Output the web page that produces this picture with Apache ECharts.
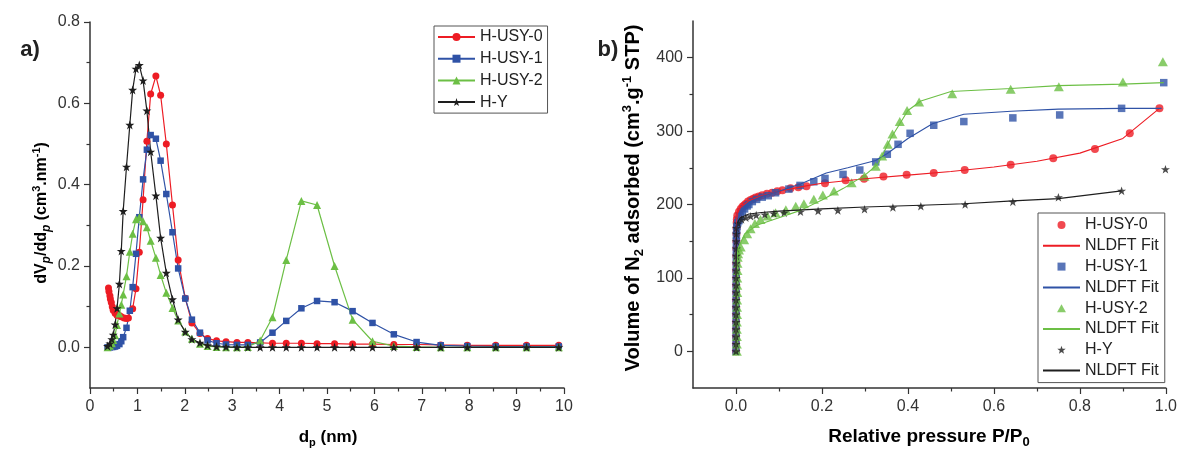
<!DOCTYPE html>
<html>
<head>
<meta charset="utf-8">
<script src="https://cdn.jsdelivr.net/npm/echarts@6/dist/echarts.min.js"></script>
<style>html,body{margin:0;padding:0;background:#fff}#c{width:1180px;height:450px}</style>
</head>
<body>
<div id="c"></div>
<script>
// ---------- Panel a) pore size distribution ----------
const psdGrid = [0.37,0.42,0.46,0.49,0.53,0.57,0.62,0.66,0.70,0.77,0.84,0.90,0.97,1.04,1.12,1.20,1.28,1.39,1.49,1.61,1.74,1.86,2.01,2.15,2.32,2.48,2.67,2.87,3.10,3.33,3.59,3.85,4.14,4.46,4.79,5.16,5.54,5.96,6.41,6.89,7.40,7.96,8.56,9.21,9.89];
const usy0X = [0.39,0.40,0.42,0.43,0.45,0.47,0.49,0.53,0.57,0.62,0.66,0.72,0.77,0.81,0.90,0.97,1.04,1.12,1.20,1.28,1.39,1.49,1.61,1.74,1.86,2.01,2.15,2.32,2.48,2.67,2.87,3.10,3.33,3.59,3.85,4.14,4.46,4.79,5.16,5.54,5.96,6.41,6.89,7.40,7.96,8.56,9.21,9.89];
const usy0Y = [0.146,0.137,0.127,0.119,0.110,0.100,0.091,0.084,0.079,0.078,0.075,0.072,0.071,0.072,0.095,0.144,0.234,0.363,0.507,0.623,0.667,0.620,0.500,0.350,0.215,0.121,0.060,0.034,0.022,0.016,0.014,0.012,0.012,0.011,0.010,0.010,0.010,0.009,0.009,0.008,0.008,0.007,0.007,0.006,0.005,0.005,0.005,0.005];
const usy1Y = [0.000,0.000,0.001,0.001,0.002,0.004,0.008,0.015,0.025,0.048,0.090,0.148,0.230,0.320,0.413,0.486,0.522,0.513,0.459,0.377,0.283,0.194,0.120,0.068,0.036,0.017,0.010,0.007,0.006,0.006,0.012,0.036,0.065,0.096,0.114,0.111,0.089,0.060,0.032,0.013,0.005,0.003,0.002,0.002,0.002];
const usy2Y = [0.000,0.004,0.010,0.018,0.030,0.055,0.083,0.105,0.130,0.175,0.235,0.279,0.315,0.320,0.310,0.295,0.262,0.220,0.178,0.134,0.097,0.066,0.039,0.021,0.009,0.003,0.001,0.000,0.000,0.001,0.017,0.074,0.215,0.360,0.350,0.200,0.068,0.015,0.003,0.001,0.000,0.000,0.000,0.000,0.000];
const hyY   = [0.003,0.009,0.020,0.031,0.056,0.096,0.156,0.237,0.335,0.444,0.547,0.633,0.685,0.694,0.656,0.582,0.481,0.373,0.269,0.183,0.118,0.068,0.038,0.020,0.011,0.005,0.002,0.001,0.000,0.000,0.000,0.000,0.000,0.000,0.000,0.000,0.000,0.000,0.000,0.000,0.000,0.000,0.000,0.000,0.000];
const psdXTicks = [0,1,2,3,4,5,6,7,8,9,10];
const psdYTicks = [0,0.2,0.4,0.6,0.8];

// ---------- Panel b) N2 isotherms ----------
const iso0P = [0.0001,0.0001,0.0002,0.0002,0.0002,0.0003,0.0003,0.0003,0.0004,0.0004,0.0005,0.0005,0.0006,0.0007,0.0008,0.0009,0.001,0.0012,0.0015,0.002,0.003,0.007,0.011,0.015,0.019,0.023,0.028,0.034,0.040,0.046,0.053,0.061,0.072,0.084,0.096,0.108,0.127,0.145,0.164,0.207,0.255,0.298,0.343,0.397,0.460,0.532,0.639,0.738,0.835,0.916,0.985];
const iso0V = [0,10,20,30,40,50,60,70,80,90,100,110,120,130,140,150,160,168,175,180,185,190,194,197,199,201,204,206,208,209.6,211,212.7,214.5,216,218,219.5,222,223.5,225,229,233,235,238,240.5,243,247,254,263,275.5,297,331];
const fit0P = [0,0.0005,0.001,0.003,0.01,0.03,0.06,0.1,0.16,0.2,0.3,0.4,0.5,0.6,0.7,0.8,0.9,0.985];
const fit0V = [0,100,170,188,196,205,212,218,225,229,235,240,245,251,259,270,290,331];

const iso1P = [0.0001,0.0001,0.0002,0.0002,0.0002,0.0003,0.0003,0.0003,0.0004,0.0004,0.0005,0.0005,0.0006,0.0007,0.0008,0.0009,0.001,0.0015,0.002,0.004,0.007,0.010,0.015,0.020,0.026,0.030,0.038,0.048,0.061,0.075,0.092,0.123,0.149,0.181,0.207,0.249,0.288,0.325,0.352,0.377,0.405,0.460,0.530,0.644,0.753,0.897,0.995];
const iso1V = [0,10,20,30,40,50,60,70,80,90,100,110,120,130,140,150,158,165,170,175,178,184,190,194,198,200,204,207,210,212,216,221,226,231,235.5,241,247,258,268.5,282,297,308,313,318,322,331,366];
const fit1P = [0,0.0005,0.001,0.003,0.01,0.03,0.06,0.1,0.15,0.21,0.26,0.325,0.352,0.40,0.457,0.53,0.64,0.75,0.9,0.99];
const fit1V = [0,100,150,175,190,203,211,218,228,243,250,260,269.5,290,310,323,327,330,331,331];

const iso2P = [0.002,0.002,0.002,0.002,0.002,0.0025,0.0025,0.0025,0.003,0.003,0.003,0.0035,0.0035,0.004,0.005,0.007,0.011,0.019,0.026,0.034,0.044,0.057,0.073,0.092,0.116,0.139,0.158,0.181,0.202,0.228,0.269,0.299,0.325,0.340,0.353,0.364,0.381,0.398,0.426,0.503,0.639,0.751,0.900,0.993];
const iso2V = [0,10,20,30,40,50,60,70,80,90,100,110,120,128,133,138,142,152,160,167,174,179.6,184.5,188.7,193,197.5,201,207,213,218.5,229.5,238.6,252,266,282,296,313,328,339.5,351,357,360.5,367,394.5];
const fit2P = [0,0.001,0.003,0.005,0.02,0.05,0.1,0.15,0.2,0.25,0.3,0.33,0.36,0.40,0.43,0.5,0.64,0.75,0.9,0.995];
const fit2V = [0,100,130,140,160,172,182,192,206,222,240,255,290,328,341,354,358,362,364,366];

const isoYP = [0.0001,0.0001,0.0001,0.0002,0.0002,0.0002,0.0003,0.0003,0.0003,0.0004,0.0004,0.0005,0.0005,0.0006,0.0007,0.0008,0.0009,0.001,0.005,0.013,0.023,0.034,0.047,0.067,0.088,0.112,0.150,0.191,0.237,0.299,0.365,0.430,0.533,0.644,0.750,0.897,0.999];
const isoYV = [0,10,20,30,40,50,60,70,80,90,100,110,120,130,140,150,160,168,174,179.5,182,184,185.5,186.4,187.7,188.6,190,191.3,192,193.6,196,197.7,200,203.6,210,218.6,248];
const fitYP = [0,0.0005,0.001,0.003,0.01,0.03,0.06,0.1,0.2,0.3,0.43,0.53,0.644,0.75,0.897];
const fitYV = [0,120,160,175,182,187,189,191,194,196.5,199,201,205,208,218.6];

const isoXTicks = [0,0.2,0.4,0.6,0.8,1.0];
const isoYTicks = [0,100,200,300,400];

const names = ['H-USY-0','H-USY-1','H-USY-2','H-Y'];
const colors = ['#ED1C24','#2F52A6','#6CBF45','#1E1E1E'];

// ---------- build ----------
const FONT = '"Liberation Sans", Arial, Helvetica, sans-serif';
const STAR = 'path://M50,0L61.8,34.5L97.6,34.5L68.8,55.9L79.4,90.5L50,69.1L20.6,90.5L31.2,55.9L2.4,34.5L38.2,34.5Z';
const SQUARE = 'path://M0,0L10,0L10,10L0,10Z';
const TRI = 'path://M5,0L10,9L0,9Z';
const zip = (xs, ys) => xs.map((x, i) => [x, ys[i]]);

function axisBase(extra) {
  return Object.assign({
    type: 'value',
    axisLine: { show: true, onZero: false, lineStyle: { color: '#333', width: 1.5 } },
    axisTick: { show: true, inside: false, length: 6, lineStyle: { color: '#333', width: 1.2 } },
    minorTick: { show: true, splitNumber: 2, length: 3.5, lineStyle: { color: '#333', width: 1.2 } },
    splitLine: { show: false },
    axisLabel: { fontSize: 16, color: '#333', fontFamily: FONT }
  }, extra);
}

const psdSymbols = ['circle', 'rect', 'triangle', STAR];
const psdSizes = [7, 6.5, 8, 9];
const psdData = [zip(usy0X, usy0Y), zip(psdGrid, usy1Y), zip(psdGrid, usy2Y), zip(psdGrid, hyY)];

const series = [];
names.forEach((n, i) => {
  series.push({
    name: n, type: 'line', xAxisIndex: 0, yAxisIndex: 0,
    data: psdData[i], symbol: psdSymbols[i], symbolSize: psdSizes[i],
    showSymbol: true, color: colors[i],
    lineStyle: { width: 1.2, color: colors[i] },
    itemStyle: { color: colors[i] }
  });
});

const isoData = [[iso0P, iso0V, fit0P, fit0V],[iso1P, iso1V, fit1P, fit1V],[iso2P, iso2V, fit2P, fit2V],[isoYP, isoYV, fitYP, fitYV]];
const isoSymbols = ['circle', SQUARE, TRI, STAR];
const isoSizes = [8, 7.5, 10, 9];
const rightLegend = [];
names.forEach((n, i) => {
  const d = isoData[i];
  series.push({
    name: n + '#b', type: 'scatter', xAxisIndex: 1, yAxisIndex: 1,
    data: zip(d[0], d[1]), symbol: isoSymbols[i], symbolSize: isoSizes[i], symbolKeepAspect: true,
    itemStyle: { color: colors[i] }
  });
  series.push({
    name: 'NLDFT Fit#' + i, type: 'line', xAxisIndex: 1, yAxisIndex: 1,
    data: zip(d[2], d[3]), symbol: 'none', showSymbol: false,
    color: colors[i], lineStyle: { width: 1.1, color: colors[i] }
  });
  rightLegend.push({ name: n + '#b' });
  rightLegend.push({ name: 'NLDFT Fit#' + i, itemStyle: { opacity: 0 } });
});

function richSet(fs) {
  const s = Math.round(fs * 0.66);
  return {
    b: { fontSize: fs, fontWeight: 'bold', fontFamily: FONT, color: '#222', lineHeight: fs + 5 },
    sub: { fontSize: s, fontWeight: 'bold', fontFamily: FONT, color: '#222', verticalAlign: 'bottom', lineHeight: s + 3 },
    subi: { fontSize: s + 1, fontWeight: 'bold', fontStyle: 'italic', fontFamily: FONT, color: '#222', verticalAlign: 'bottom', lineHeight: s + 3 },
    sup: { fontSize: s, fontWeight: 'bold', fontFamily: FONT, color: '#222', verticalAlign: 'top', lineHeight: s + 1 }
  };
}

const option = {
  animation: false,
  backgroundColor: '#fff',
  grid: [
    { left: 90, top: 22, width: 474, height: 366 },
    { left: 693, top: 21, width: 473, height: 367 }
  ],
  xAxis: [
    axisBase({ gridIndex: 0, min: 0, max: 10, interval: 1,
      axisLabel: { fontSize: 16, color: '#333', fontFamily: FONT, margin: 11, customValues: psdXTicks } }),
    axisBase({ gridIndex: 1, min: -0.1, max: 1.0,
      axisTick: { show: true, inside: false, length: 6, customValues: isoXTicks, lineStyle: { color: '#333', width: 1.2 } },
      axisLabel: { fontSize: 16, color: '#333', fontFamily: FONT, margin: 11, customValues: isoXTicks, formatter: v => v.toFixed(1) } })
  ],
  yAxis: [
    axisBase({ gridIndex: 0, min: -0.1, max: 0.8,
      axisTick: { show: true, inside: false, length: 6, customValues: psdYTicks, lineStyle: { color: '#333', width: 1.2 } },
      axisLabel: { fontSize: 16, color: '#333', fontFamily: FONT, margin: 10, customValues: psdYTicks, formatter: v => v.toFixed(1) } }),
    axisBase({ gridIndex: 1, min: -50, max: 450,
      axisTick: { show: true, inside: false, length: 6, customValues: isoYTicks, lineStyle: { color: '#333', width: 1.2 } },
      axisLabel: { fontSize: 16, color: '#333', fontFamily: FONT, margin: 10, customValues: isoYTicks } })
  ],
  legend: [
    { orient: 'vertical', left: 434, top: 26, padding: [3, 5, 3, 3], itemGap: 5.7,
      itemWidth: 37, itemHeight: 10, borderColor: '#555', borderWidth: 1,
      data: names, selectedMode: false,
      textStyle: { fontSize: 16, lineHeight: 16, color: '#222', fontFamily: FONT } },
    { orient: 'vertical', left: 1038, top: 213, padding: [4, 6, 4, 4], itemGap: 4.8,
      itemWidth: 37, itemHeight: 8, borderColor: '#555', borderWidth: 1,
      data: rightLegend, selectedMode: false, symbolKeepAspect: true,
      formatter: n => n.split('#')[0],
      textStyle: { fontSize: 16, lineHeight: 16, color: '#222', fontFamily: FONT } }
  ],
  graphic: [
    { type: 'text', x: 30, y: 50, style: { text: 'a)', font: 'bold 22px ' + FONT, fill: '#222', align: 'center', verticalAlign: 'middle' } },
    { type: 'text', x: 608, y: 50, style: { text: 'b)', font: 'bold 22px ' + FONT, fill: '#222', align: 'center', verticalAlign: 'middle' } },
    { type: 'text', x: 42, y: 213, rotation: Math.PI / 2,
      style: { text: '{b|dV}{subi|p}{b|/dd}{subi|p}{b| (cm}{sup|3}{b|.nm}{sup|-1}{b|)}', rich: richSet(16), align: 'center', verticalAlign: 'middle' } },
    { type: 'text', x: 633, y: 198, rotation: Math.PI / 2,
      style: { text: '{b|Volume of N}{sub|2}{b| adsorbed (cm}{sup|3}{b|.g}{sup|-1}{b| STP)}', rich: richSet(20), align: 'center', verticalAlign: 'middle' } },
    { type: 'text', x: 328, y: 437,
      style: { text: '{b|d}{sub|p}{b| (nm)}', rich: richSet(17), align: 'center', verticalAlign: 'middle' } },
    { type: 'text', x: 929, y: 437,
      style: { text: '{b|Relative pressure P/P}{sub|0}', rich: richSet(19), align: 'center', verticalAlign: 'middle' } }
  ],
  series: series
};

const chart = echarts.init(document.getElementById('c'), null, { renderer: 'canvas' });
chart.setOption(option);
</script>
</body>
</html>
